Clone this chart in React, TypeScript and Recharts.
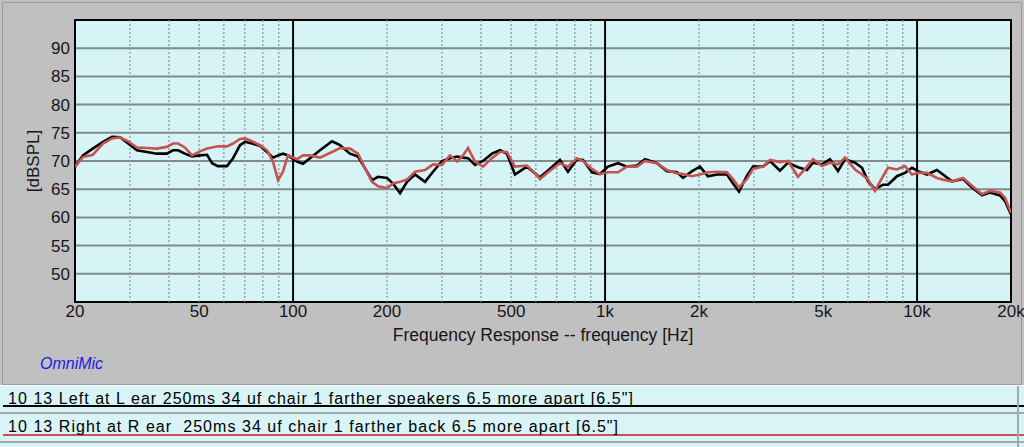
import React from 'react';
import {
  LineChart,
  Line,
  XAxis,
  YAxis,
  CartesianGrid,
  ReferenceLine,
  ReferenceArea,
  Label,
} from 'recharts';

// frequency points (Hz)
const FREQS = [
  20, 21.2, 22.8, 24.6, 26.3, 27.9, 29.6, 31.6, 34, 36.6, 39.4, 41.2, 42.8, 45, 47.4, 50.3,
  53, 55, 57.4, 61.4, 64.2, 67.6, 70.1, 73.9, 78.3, 82.5, 86.2, 89.5, 92.8, 96.3, 102.9, 107.6,
  113.3, 122, 133.3, 141.4, 152.2, 161.5, 170.1, 179.1, 187.2, 200, 209.1, 220.2, 231.9, 245.9,
  264.8, 280.9, 300.2, 318.4, 335.3, 350.5, 363.7, 383, 406.2, 433.9, 460.3, 484.7, 514.2, 561.6,
  605, 618.5, 656.2, 716.8, 760.3, 812.7, 849.5, 908, 963, 1022, 1100, 1175, 1265, 1342, 1467,
  1579, 1701, 1778, 1900, 2015, 2137, 2285, 2459, 2571, 2687, 2850, 2980, 3207, 3379, 3635, 3857,
  4154, 4438, 4639, 4958, 5259, 5578, 5874, 6325, 6660, 6962, 7331, 7776, 8069, 8620, 9148, 9632,
  10068, 10757, 11580, 12108, 12937, 14035, 14998, 16150, 17133, 18438, 19131, 20000,
];

// black trace: left ear
const LEFT_EAR = [
  69.0, 71.0, 72.2, 73.4, 74.3, 74.2, 73.1, 71.9, 71.6, 71.3, 71.3, 71.9, 71.9, 71.3, 70.8, 71.0,
  71.1, 69.6, 69.1, 69.1, 70.5, 72.8, 73.4, 73.1, 72.7, 71.6, 70.6, 71.0, 71.3, 71.0, 69.9, 69.5,
  70.5, 71.9, 73.5, 72.8, 71.3, 70.8, 68.7, 66.6, 67.2, 67.0, 66.0, 64.3, 66.3, 67.6,
  66.3, 68.1, 70.0, 70.5, 70.8, 70.6, 70.5, 69.3, 70.0, 71.3, 71.9, 71.3, 67.6, 69.0,
  67.5, 67.1, 68.3, 70.2, 68.1, 70.3, 70.2, 68.0, 67.7, 69.0, 69.6, 69.0, 69.2, 70.3, 69.6,
  68.2, 68.0, 67.0, 68.2, 69.0, 67.3, 67.6, 67.6, 66.0, 64.6, 67.4, 69.0, 69.0, 70.0, 68.3, 69.7,
  68.9, 68.4, 69.7, 69.4, 70.3, 68.2, 70.3, 69.7, 68.8, 66.4, 65.0, 65.8, 65.8, 67.3, 67.9, 68.8,
  68.2, 67.6, 68.4, 67.6, 66.4, 66.8, 65.3, 63.9, 64.4, 63.9, 62.9, 60.5,
];

// red trace: right ear
const RIGHT_EAR = [
  69.0, 70.7, 71.1, 73.1, 74.0, 74.2, 73.5, 72.4, 72.3, 72.2, 72.5, 73.1, 73.1, 72.4, 71.0, 71.7,
  72.2, 72.4, 72.6, 72.6, 73.1, 73.9, 74.0, 73.5, 72.8, 71.9, 69.9, 66.6, 68.1, 71.0, 70.3, 71.0,
  71.0, 70.6, 71.6, 72.3, 72.2, 71.3, 68.7, 66.3, 65.5, 65.2, 66.0, 66.3, 66.7, 68.1,
  68.4, 69.4, 69.3, 71.0, 69.9, 71.0, 72.3, 69.9, 69.0, 70.5, 71.6, 71.6, 69.0, 69.2,
  67.5, 66.8, 68.0, 69.6, 69.0, 70.5, 70.0, 68.6, 67.7, 68.0, 68.0, 69.0, 69.0, 70.0, 69.6,
  68.4, 67.8, 67.7, 67.3, 67.6, 68.0, 68.1, 68.0, 66.8, 65.3, 66.8, 68.6, 69.0, 70.2, 69.8, 70.0,
  67.2, 69.0, 70.3, 69.1, 69.7, 69.4, 70.6, 68.5, 67.6, 66.7, 64.7, 67.3, 68.8, 68.5, 69.1, 67.6,
  67.9, 67.9, 67.0, 66.7, 66.4, 67.0, 65.6, 64.1, 64.7, 64.4, 63.5, 60.8,
];

const X_TICKS = [20, 50, 100, 200, 500, 1000, 2000, 5000, 10000, 20000];
const Y_TICKS = [50, 55, 60, 65, 70, 75, 80, 85, 90];
const DECADE_LINES = [100, 1000, 10000];
const MINOR_LINES = [
  30, 40, 50, 60, 70, 80, 90,
  200, 300, 400, 500, 600, 700, 800, 900,
  2000, 3000, 4000, 5000, 6000, 7000, 8000, 9000,
];

const LEGEND_LEFT = '10 13 Left at L ear 250ms 34 uf chair 1 farther speakers 6.5 more apart [6.5"]';
const LEGEND_RIGHT = '10 13 Right at R ear  250ms 34 uf chair 1 farther back 6.5 more apart [6.5"]';

const rows = FREQS.map((freq, i) => ({ freq, left: LEFT_EAR[i], right: RIGHT_EAR[i] }));

const FONT = '"Liberation Sans", Arial, sans-serif';

const fmtFreq = (f: number) => (f >= 1000 ? `${f / 1000}k` : `${f}`);

export default function App() {
  return (
    <div
      style={{
        position: 'absolute',
        left: 0,
        top: 0,
        width: 1024,
        height: 447,
        background: '#c0c0c0',
        overflow: 'hidden',
        fontFamily: FONT,
      }}
    >
      {/* frame around the chart panel */}
      <div
        style={{
          position: 'absolute',
          left: 2,
          top: 2,
          width: 1018,
          height: 381,
          border: '1px solid #9c9c9c',
        }}
      />
      <div style={{ position: 'absolute', left: 0, top: 0 }}>
        <LineChart
          width={1024}
          height={385}
          data={rows}
          margin={{ top: 20, right: 13, bottom: 53, left: 25 }}
        >
          <CartesianGrid
            vertical={false}
            fill="#d6f3f5"
            fillOpacity={1}
            stroke="#7f8b8b"
            strokeWidth={2}
          />
          <XAxis
            dataKey="freq"
            type="number"
            scale="log"
            domain={[20, 20000]}
            ticks={X_TICKS}
            tickFormatter={fmtFreq}
            allowDataOverflow
            axisLine={false}
            tickLine={false}
            tickSize={0}
            tickMargin={3}
            height={30}
            tick={{ fill: '#161616', fontSize: 17, fontFamily: FONT }}
          >
            <Label
              value="Frequency Response -- frequency [Hz]"
              position="bottom"
              offset={-3}
              style={{ fill: '#161616', fontSize: 17.5, fontFamily: FONT }}
            />
          </XAxis>
          <YAxis
            type="number"
            domain={[45, 95]}
            ticks={Y_TICKS}
            allowDataOverflow
            axisLine={false}
            tickLine={false}
            tickSize={0}
            tickMargin={5}
            width={50}
            tick={{ fill: '#161616', fontSize: 17, fontFamily: FONT }}
          >
            <Label
              value="[dBSPL]"
              angle={-90}
              position="center"
              dx={-17}
              style={{ fill: '#161616', fontSize: 17, fontFamily: FONT }}
            />
          </YAxis>
          {MINOR_LINES.map((f) => (
            <ReferenceLine
              key={`m${f}`}
              x={f}
              stroke="#8c9a9b"
              strokeWidth={1.3}
              strokeDasharray="2 2"
            />
          ))}
          {DECADE_LINES.map((f) => (
            <ReferenceLine key={`d${f}`} x={f} stroke="#000" strokeWidth={2} />
          ))}
          <Line
            dataKey="left"
            type="linear"
            stroke="#000000"
            strokeWidth={2.6}
            dot={false}
            isAnimationActive={false}
          />
          <Line
            dataKey="right"
            type="linear"
            stroke="#c65252"
            strokeWidth={2.6}
            dot={false}
            isAnimationActive={false}
          />
          <ReferenceArea
            x1={20}
            x2={20000}
            y1={45}
            y2={95}
            fill="none"
            stroke="#000"
            strokeWidth={2}
          />
        </LineChart>
      </div>

      <div
        style={{
          position: 'absolute',
          left: 40,
          top: 355,
          color: '#1c1ce6',
          fontStyle: 'italic',
          fontSize: 16,
          lineHeight: '18px',
        }}
      >
        OmniMic
      </div>

      {/* legend rows */}
      <div
        style={{
          position: 'absolute',
          left: 0,
          top: 385,
          width: 1024,
          height: 62,
          background: '#d8f4f6',
          borderTop: '1px solid #ffffff',
        }}
      />
      <div style={{ position: 'absolute', left: 3, top: 405, width: 1021, height: 2, background: '#000' }} />
      <div style={{ position: 'absolute', left: 0, top: 412, width: 1024, height: 2, background: '#a2abab' }} />
      <div style={{ position: 'absolute', left: 3, top: 434, width: 1021, height: 2, background: '#c65252' }} />
      <div style={{ position: 'absolute', left: 0, top: 441, width: 1024, height: 2, background: '#a2abab' }} />
      <div style={{ position: 'absolute', left: 1017, top: 386, width: 2, height: 61, background: '#a2abab' }} />
      <div
        style={{
          position: 'absolute',
          left: 8,
          top: 391,
          fontSize: 16,
          lineHeight: '16px',
          letterSpacing: 1.05,
          color: '#000',
          whiteSpace: 'pre',
        }}
      >
        {LEGEND_LEFT}
      </div>
      <div
        style={{
          position: 'absolute',
          left: 8,
          top: 419,
          fontSize: 16,
          lineHeight: '16px',
          letterSpacing: 1.05,
          color: '#000',
          whiteSpace: 'pre',
        }}
      >
        {LEGEND_RIGHT}
      </div>
    </div>
  );
}
